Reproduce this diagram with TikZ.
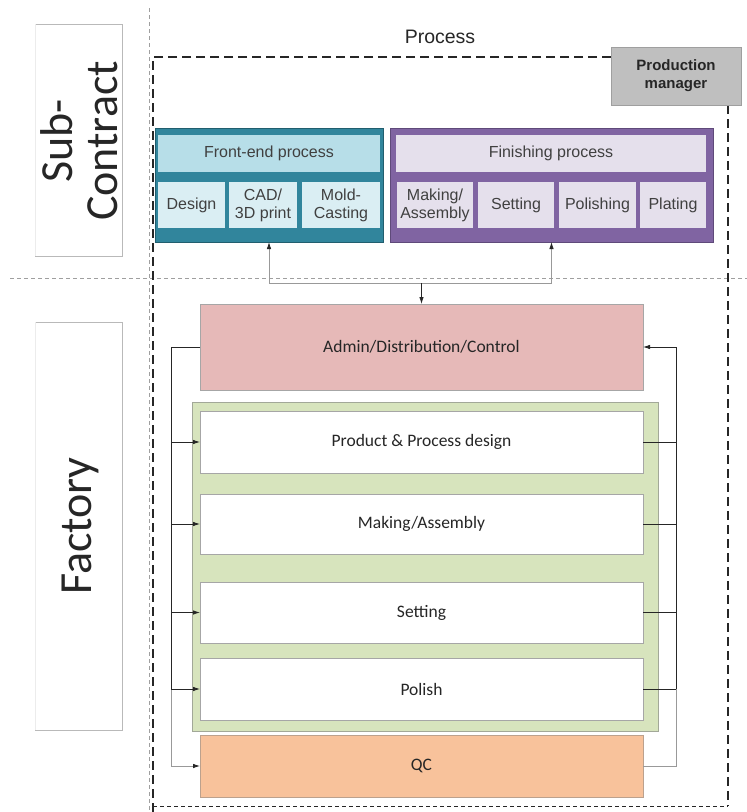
\documentclass[tikz,border=0pt]{standalone}
\usepackage{fontspec}
\setmainfont{Carlito}
\newfontfamily\arialf{Liberation Sans}
\usetikzlibrary{arrows.meta}
\definecolor{feTeal}{HTML}{31859C}
\definecolor{feDark}{HTML}{215E6E}
\definecolor{feHdr}{HTML}{B7DEE8}
\definecolor{feSub}{HTML}{DAEEF3}
\definecolor{fiPurple}{HTML}{8064A2}
\definecolor{fiDark}{HTML}{5F4A7A}
\definecolor{fiHdr}{HTML}{E5E0EC}
\definecolor{pmGray}{HTML}{BFBFBF}
\definecolor{adminRed}{HTML}{E6B9B8}
\definecolor{grnFill}{HTML}{D7E4BD}
\definecolor{qcOr}{HTML}{F8C29B}
\definecolor{txt}{HTML}{262626}
\definecolor{toptxt}{HTML}{404040}

\newcommand{\rbox}[7]{%
  \pgfmathsetmacro\rbcx{(#3+#5)/2}\pgfmathsetmacro\rbcy{(#4+#6)/2}%
  \pgfmathsetmacro\rbw{#5-#3}\pgfmathsetmacro\rbh{#6-#4}%
  \node[basebox,#1,minimum width=\rbw pt,minimum height=\rbh pt] (#2) at (\rbcx,\rbcy) {#7};}

\tikzset{
  basebox/.style={rectangle,inner sep=0pt,outer sep=0pt,align=center,text=txt},
  feouter/.style={fill=feTeal,draw=feDark,line width=1pt},
  fehdr/.style={fill=feHdr,font=\arialf\fontsize{16}{18}\selectfont,text=toptxt},
  fesub/.style={fill=feSub,font=\arialf\fontsize{16}{18}\selectfont,text=toptxt},
  fiouter/.style={fill=fiPurple,draw=fiDark,line width=1pt},
  fihdr/.style={fill=fiHdr,font=\arialf\fontsize{16}{18}\selectfont,text=toptxt},
  fisub/.style={fill=fiHdr,font=\arialf\fontsize{16}{18}\selectfont,text=toptxt},
  pmbox/.style={fill=pmGray,draw=gray!75,line width=0.6pt,font=\arialf\bfseries\fontsize{15}{18}\selectfont},
  adminbox/.style={fill=adminRed,draw=gray!70,line width=0.8pt,font=\fontsize{17.5}{20}\selectfont},
  grnbox/.style={fill=grnFill,draw=gray!60!grnFill,line width=0.8pt},
  wbox/.style={fill=white,draw=gray!70,line width=0.8pt,font=\fontsize{17.5}{20}\selectfont},
  qcbox/.style={fill=qcOr,draw=gray!50!qcOr,line width=0.8pt,font=\fontsize{17.5}{20}\selectfont},
  divider/.style={gray!75,line width=0.6pt,dash pattern=on 4pt off 3pt},
  frameline/.style={black!85,line width=1.1pt,dash pattern=on 9pt off 5pt},
  framebot/.style={black!85,line width=0.9pt,dash pattern=on 4pt off 3pt},
  conn/.style={black!85,line width=0.8pt},
  gconn/.style={gray!80,line width=0.8pt},
  tip/.style={-{Latex[length=7pt,width=4.5pt,color=black!85]}},
  sidelbl/.style={gray!55,line width=0.6pt}
}

\begin{document}
\begin{tikzpicture}[x=1pt,y=-1pt]
\useasboundingbox (0,0) rectangle (747,812);
\fill[white] (0,0) rectangle (747,812);

% side label frames
\draw[sidelbl] (35,24) -- (122,24) -- (122,256) -- (35,256);
\draw[gray!15,line width=0.5pt] (35,24) -- (35,256);
\draw[sidelbl] (35,322) -- (122,322) -- (122,730) -- (35,730);
\draw[gray!15,line width=0.5pt] (35,322) -- (35,730);
\node[rotate=90,align=center,text=txt,font=\fontsize{46}{45}\selectfont] (subc) at (79,141) {Sub-\\Contract};
\node[rotate=90,text=txt,font=\fontsize{46}{46}\selectfont] (fact) at (80,526) {Factory};

% dividers
\draw[divider] (149,8) -- (149,812);
\draw[divider] (10,278) -- (747,278);

% process frame
\node[font=\arialf\fontsize{19.5}{22}\selectfont,text=txt] (proc) at (440,37) {Process};
\draw[frameline] (611,57) -- (153,57) -- (153,812);
\draw[frameline] (728,105) -- (728,806);
\draw[framebot] (153,806) -- (728,806);

% production manager
\rbox{pmbox}{pm}{611}{47}{741}{105}{Production\\manager}

% front-end process
\rbox{feouter}{fe}{155}{128}{383}{242}{}
\rbox{fehdr}{feh}{158}{135}{380}{172}{Front-end process}
\rbox{fesub}{fe1}{158}{182}{225}{228}{Design}
\rbox{fesub}{fe2}{229}{182}{297}{228}{CAD/\\3D print}
\rbox{fesub}{fe3}{302}{182}{380}{228}{Mold-\\Casting}

% finishing process
\rbox{fiouter}{fin}{390}{128}{713}{242}{}
\rbox{fihdr}{finh}{396}{135}{706}{172}{Finishing process}
\rbox{fisub}{fi1}{397}{182}{473}{228}{Making/\\Assembly}
\rbox{fisub}{fi2}{478}{182}{554}{228}{Setting}
\rbox{fisub}{fi3}{559}{182}{636}{228}{Polishing}
\rbox{fisub}{fi4}{640}{182}{706}{228}{Plating}

% factory blocks
\rbox{adminbox}{adm}{200}{304}{643}{390}{Admin/Distribution/Control}
\rbox{grnbox}{grp}{192}{402}{658}{731}{}
\rbox{wbox}{pd}{200}{411}{643}{473}{Product \& Process design}
\rbox{wbox}{ma}{200}{494}{643}{554}{Making/Assembly}
\rbox{wbox}{st}{200}{582}{643}{643}{Setting}
\rbox{wbox}{po}{200}{658}{643}{720}{Polish}
\rbox{qcbox}{qc}{200}{735}{643}{797}{QC}

% top connectors
\coordinate (j) at (421.5,283);
\draw[gconn,tip] (j) -| (fe.south);
\draw[gconn,tip] (j) -| (fin.south);
\draw[conn,tip] (j) -- (adm.north);

% left feed
\coordinate (L) at (171,0);
\coordinate (R) at (676,0);
\draw[conn] (adm.west) -- (adm.west -| L) -- (po.west -| L);
\draw[gconn,tip] (po.west -| L) -- (qc.west -| L) -- (qc.west);
\draw[conn,tip] (pd.west -| L) -- (pd.west);
\draw[conn,tip] (ma.west -| L) -- (ma.west);
\draw[conn,tip] (st.west -| L) -- (st.west);
\draw[conn,tip] (po.west -| L) -- (po.west);

% right return
\draw[gconn] (qc.east) -- (qc.east -| R) -- (po.east -| R);
\draw[conn,tip] (po.east -| R) -- (adm.east -| R) -- (adm.east);
\draw[conn] (pd.east) -- (pd.east -| R);
\draw[conn] (ma.east) -- (ma.east -| R);
\draw[conn] (st.east) -- (st.east -| R);
\draw[conn] (po.east) -- (po.east -| R);
\end{tikzpicture}
\end{document}
